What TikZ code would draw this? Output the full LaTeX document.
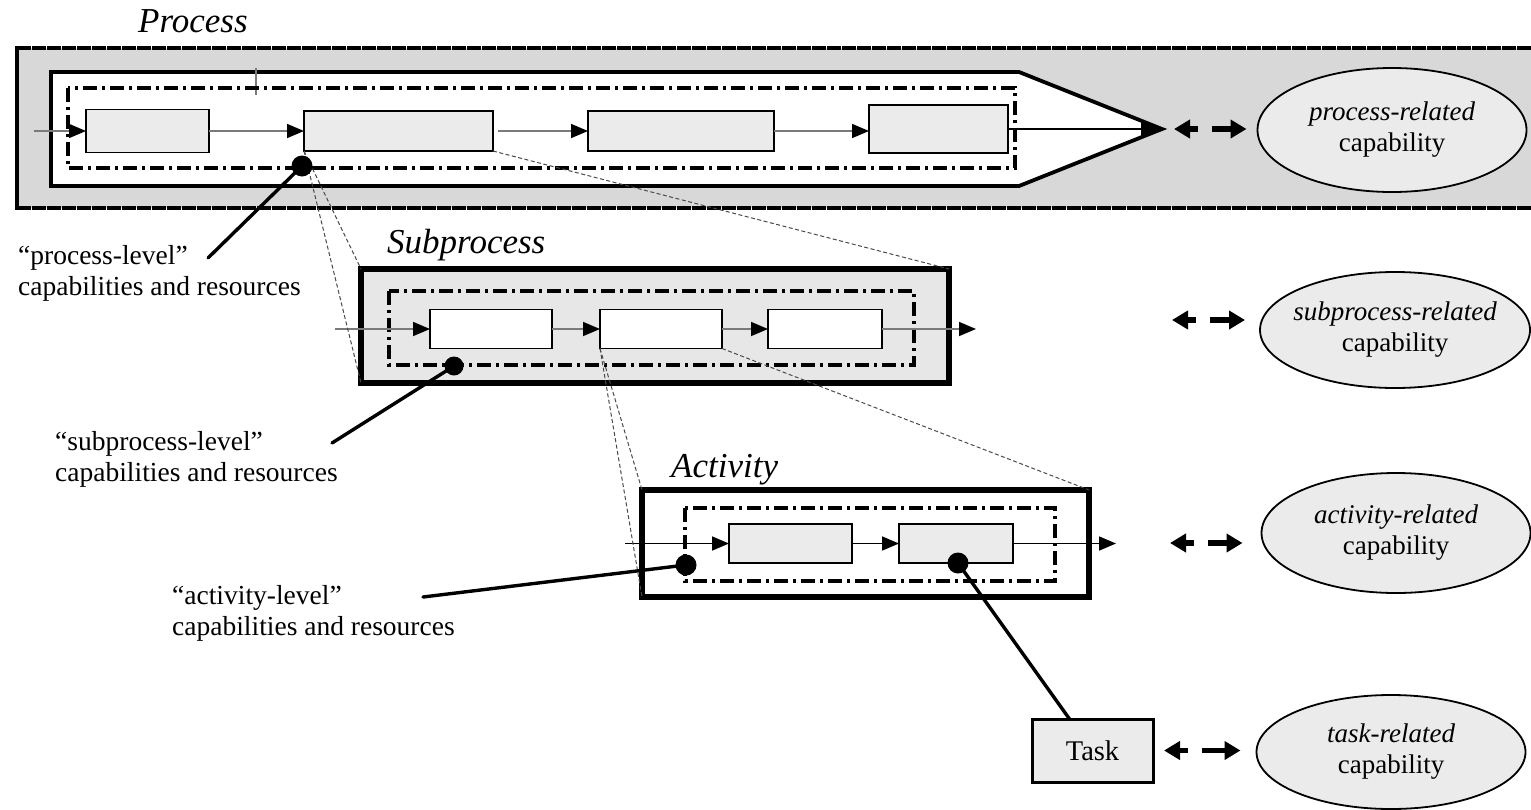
\documentclass[tikz,border=0pt]{standalone}
\usepackage{fontspec}
\setmainfont{Liberation Serif}
\usetikzlibrary{arrows.meta,shapes.geometric,calc}

\definecolor{bandgray}{HTML}{D8D8D8}
\definecolor{boxgray}{HTML}{EBEBEB}
\definecolor{subgray}{HTML}{E7E7E7}
\definecolor{flowgray}{HTML}{7A7A7A}
\definecolor{projgray}{HTML}{4A4A4A}

\tikzset{
  stagebox/.style={draw, line width=1.7pt, inner sep=0pt, outer sep=0pt},
  graybox/.style={stagebox, fill=boxgray},
  whitebox/.style={stagebox, fill=white},
  frame/.style={draw, line width=6pt, inner sep=0pt, outer sep=0pt},
  scopeline/.style={line width=3.2pt, dash pattern=on 14pt off 5pt on 3pt off 5pt},
  flowgrey/.style={draw=flowgray, line width=1.7pt,
    -{Triangle[length=17pt,width=14pt,color=black]}},
  flowblack/.style={draw=black, line width=1.7pt,
    -{Triangle[length=17pt,width=14pt]}},
  proj/.style={draw=projgray, line width=1pt, dash pattern=on 4pt off 2.5pt},
  leader/.style={line width=3.4pt, line cap=round},
  dotmark/.style={circle, fill=black, inner sep=0pt, minimum size=21pt},
  capab/.style={ellipse, draw, line width=1.8pt, fill=boxgray,
    inner xsep=-10pt, inner ysep=0pt, outer sep=0pt,
    align=center, font=\fontsize{27}{31}\selectfont},
  linkarrow/.style={line width=5.5pt,
    {Triangle[length=16pt,width=18pt]}-{Triangle[length=16pt,width=18pt]},
    dash pattern=on 9pt off 14pt on 30pt off 1pt},
  leveltitle/.style={font=\fontsize{35}{40}\selectfont\itshape, anchor=base west, inner sep=0pt},
  note/.style={font=\fontsize{27.5}{31}\selectfont, align=left, anchor=west, inner sep=0pt},
}

\begin{document}
\begin{tikzpicture}[x=1pt, y=-1pt]
\useasboundingbox (0,0) rectangle (1531,809);

% ---------------- Process level ----------------
\fill[bandgray] (17,48) rectangle (1545,208);
\draw[line width=3.2pt, dash pattern=on 14pt off 1pt] (17,48) -- (1545,48);
\draw[line width=3.2pt, dash pattern=on 14pt off 1pt] (17,208) -- (1545,208);
\draw[line width=3.2pt] (17,46.4) -- (17,209.6);

\node[leveltitle] (ptitle) at (138,32) {Process};

\draw[line width=3.8pt, fill=white, line join=miter]
  (51,72) -- (1019,72) -- (1162,129) -- (1019,186) -- (51,186) -- cycle;
\coordinate (ptip) at (1162,129);
\draw[flowgray, line width=1.7pt] (256,68) -- (256,95);
\draw[scopeline] (68,88) rectangle (1015,168);

\node[graybox, minimum width=123pt, minimum height=43pt] (p1) at (147.5,131) {};
\node[graybox, minimum width=189pt, minimum height=40pt] (p2) at (398.5,131) {};
\node[graybox, minimum width=186pt, minimum height=40pt] (p3) at (681,131) {};
\node[graybox, minimum width=139pt, minimum height=48pt] (p4) at (938.5,129) {};

\coordinate (pin) at (34,131);
\draw[flowgrey] (pin) -- (p1);
\draw[flowgrey] (p1) -- (p2);
\draw[flowgrey, shorten <=5pt] (p2) -- (p3);
\draw[flowgrey] (p3) -- (p4.west |- p3.east);
\draw[flowblack, shorten >=4pt] (p4.east |- ptip) -- (ptip);

\node[capab, minimum width=269pt, minimum height=124pt] (pcap) at (1392,130)
  {{\itshape process-related}\\capability};
\draw[linkarrow, shorten <=12pt, shorten >=11pt] (ptip) -- (ptip -| pcap.west);

% ---------------- Subprocess level ----------------
\node[leveltitle] (stitle) at (387,253) {Subprocess};
\node[frame, fill=subgray, minimum width=588pt, minimum height=114pt] (s0) at (655,326) {};
\draw[scopeline] (389,291) rectangle (914,365);

\node[whitebox, minimum width=122pt, minimum height=39pt] (s1) at (491,329) {};
\node[whitebox, minimum width=122pt, minimum height=39pt] (s2) at (661,329) {};
\node[whitebox, minimum width=114pt, minimum height=39pt] (s3) at (825,329) {};

\coordinate (sin) at (335,329);
\coordinate (send) at (976,329);
\draw[flowgrey] (sin) -- (s1);
\draw[flowgrey] (s1) -- (s2);
\draw[flowgrey] (s2) -- (s3);
\draw[flowgrey] (s3) -- (send);

\node[capab, minimum width=270pt, minimum height=116pt] (scap) at (1395,330)
  {{\itshape subprocess-related}\\capability};
\coordinate (slink) at (1172,320);
\draw[linkarrow, shorten >=15pt] (slink) -- (slink -| scap.west);

% ---------------- Activity level ----------------
\node[leveltitle] (atitle) at (671,477) {Activity};
\node[frame, fill=white, minimum width=447pt, minimum height=107pt] (a0) at (865.5,543.5) {};
\draw[scopeline] (685,508) rectangle (1055,581);

\node[graybox, minimum width=123pt, minimum height=39pt] (a1) at (790.5,543.5) {};
\node[graybox, minimum width=114pt, minimum height=39pt] (a2) at (956,543.5) {};

\coordinate (ain) at (625,543.5);
\coordinate (aend) at (1116,543.5);
\draw[flowblack] (ain) -- (a1);
\draw[flowblack] (a1) -- (a2);
\draw[flowblack] (a2) -- (aend);

\node[capab, minimum width=269pt, minimum height=120pt] (acap) at (1396,533)
  {{\itshape activity-related}\\capability};
\coordinate (alink) at (1170,543);
\draw[linkarrow, shorten >=19pt] (alink) -- (alink -| acap.west);

% ---------------- Task level ----------------
\node[graybox, line width=3pt, minimum width=121pt, minimum height=63pt,
  font=\fontsize{28.5}{31}\selectfont] (task) at (1092.5,750.5) {Task};
\node[capab, minimum width=269pt, minimum height=114pt] (tcap) at (1391,752)
  {{\itshape task-related}\\capability};
\draw[linkarrow, shorten <=11pt, shorten >=16pt] (task.east) -- (task.east -| tcap.west);

% ---------------- Zoom projections between levels ----------------
\draw[proj] (p2.south west) -- (s0.north west);
\draw[proj] (p2.south west) -- (s0.south west);
\draw[proj] (p2.south east) -- (s0.north east);
\draw[proj] (s2.south west) -- (a0.north west);
\draw[proj] (s2.south west) -- (a0.south west);
\draw[proj] (s2.south east) -- (a0.north east);

% ---------------- Capability / resource markers ----------------
\node[dotmark] (pdot) at (302,166) {};
\node[dotmark, minimum size=19pt] (sdot) at (454,366) {};
\node[dotmark] (adot1) at (686,565) {};
\node[dotmark] (adot2) at (958,563) {};

\node[note] (plabel) at (18,273) {“process-level”\\capabilities and resources};
\node[note] (slabel) at (55,459) {“subprocess-level”\\capabilities and resources};
\node[note] (alabel) at (172,613) {“activity-level”\\capabilities and resources};

\coordinate (plead) at (208,258);
\coordinate (slead) at (332,443);
\coordinate (alead) at (423,597);
\draw[leader] (pdot.center) -- (plead);
\draw[leader] (sdot.center) -- (slead);
\draw[leader] (adot1.center) -- (alead);
\draw[leader] (adot2.center) -- ($(task.north west)!0.31!(task.north east)$);
\end{tikzpicture}
\end{document}
